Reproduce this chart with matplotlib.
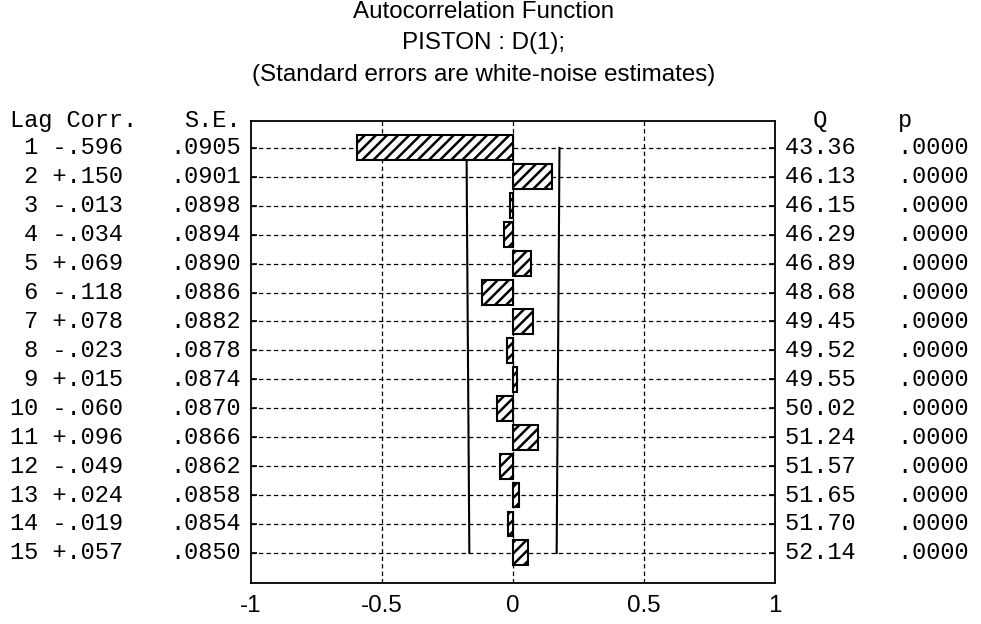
import numpy as np
import matplotlib
matplotlib.use("Agg")
import matplotlib.pyplot as plt
import matplotlib.transforms as transforms

lags = list(range(1, 16))
corr = [-0.596, 0.150, -0.013, -0.034, 0.069, -0.118, 0.078, -0.023,
        0.015, -0.060, 0.096, -0.049, 0.024, -0.019, 0.057]
se = [0.0905, 0.0901, 0.0898, 0.0894, 0.0890, 0.0886, 0.0882, 0.0878,
      0.0874, 0.0870, 0.0866, 0.0862, 0.0858, 0.0854, 0.0850]
q_stat = [43.36, 46.13, 46.15, 46.29, 46.89, 48.68, 49.45, 49.52,
          49.55, 50.02, 51.24, 51.57, 51.65, 51.70, 52.14]
p_val = [0.0] * 15
xticks = [-1, -0.5, 0, 0.5, 1]
xtick_labels = ["-1", "-0.5", "0", "0.5", "1"]
title_lines = ["Autocorrelation Function", "PISTON : D(1);",
               "(Standard errors are white-noise estimates)"]

W, H = 981, 624
fig = plt.figure(figsize=(W / 100, H / 100), dpi=100)
ax = fig.add_axes([251 / W, 1 - 583 / H, (775 - 251) / W, (583 - 121) / H])

sans = "Liberation Sans"
mono = "Liberation Mono"
fs = 17.4
mfs = 17

dash = (0, (3.5, 2.5))
for lag in lags:
    ax.axhline(lag, color="black", lw=0.9, ls=dash, zorder=1)
for xv in [-0.5, 0, 0.5]:
    ax.axvline(xv, color="black", lw=0.9, ls=dash, zorder=1)

plt.rcParams["hatch.linewidth"] = 1.8
ax.barh(lags, corr, height=0.86, color="white", edgecolor="black",
        hatch="///", linewidth=1.5, zorder=3)

lim = 1.96 * np.array(se)
ax.plot(lim, lags, color="black", lw=1.5, zorder=2)
ax.plot(-lim, lags, color="black", lw=1.5, zorder=2)

ax.set_xlim(-1, 1)
ax.set_ylim(16.04, 0.07)
ax.set_xticks(xticks)
ax.set_xticklabels(xtick_labels, fontfamily=sans, fontsize=fs)
ax.tick_params(axis="x", length=0, pad=9)
ax.set_yticks(lags)
ax.set_yticklabels([])
ax.tick_params(axis="y", direction="in", length=4, width=1.2, left=True, right=True)
for s in ax.spines.values():
    s.set_linewidth(1.3)

# table text on both sides
tr = transforms.blended_transform_factory(fig.transFigure, ax.transData)
hy = 0.04
fig.text(10 / W, hy, "Lag Corr.", transform=tr, fontfamily=mono, fontsize=mfs, va="center")
fig.text(184 / W, hy, "S.E.", transform=tr, fontfamily=mono, fontsize=mfs, va="center")
fig.text(785 / W, hy, "  Q     p", transform=tr, fontfamily=mono, fontsize=mfs, va="center")
for lag, c, s, q, p in zip(lags, corr, se, q_stat, p_val):
    cs = f"{c:+.3f}".replace("0.", ".", 1)
    fig.text(10 / W, lag, f"{lag:2d} {cs}", transform=tr, fontfamily=mono, fontsize=mfs, va="center")
    fig.text(170 / W, lag, f"{s:.4f}"[1:], transform=tr, fontfamily=mono, fontsize=mfs, va="center")
    fig.text(785 / W, lag, f"{q:.2f}   " + f"{p:.4f}"[1:], transform=tr, fontfamily=mono, fontsize=mfs, va="center")

for i, line in enumerate(title_lines):
    fig.text(484 / W, 1 - (12 + 31.5 * i) / H, line, ha="center", va="center",
             fontfamily=sans, fontsize=fs)

fig.savefig("out.png", dpi=100)
